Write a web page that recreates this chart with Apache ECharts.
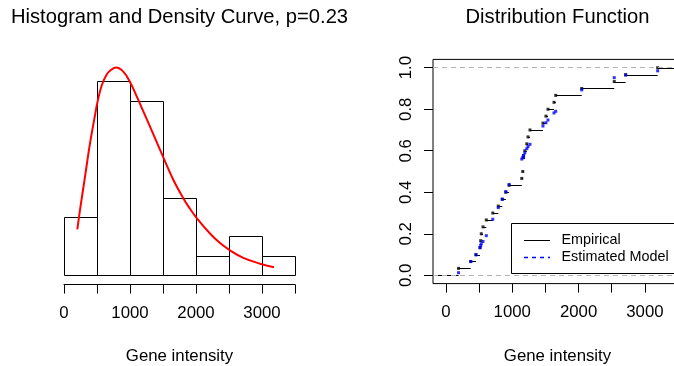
<!DOCTYPE html>
<html>
<head>
<meta charset="utf-8">
<script src="https://cdn.jsdelivr.net/npm/echarts@6/dist/echarts.min.js"></script>
<style>
html,body{margin:0;padding:0;background:#fff;}
#c{width:674px;height:366px;}
</style>
</head>
<body>
<div id="c"></div>
<script>
// ---- data ----
const breaks = [0, 500, 1000, 1500, 2000, 2500, 3000, 3500];
const binCounts = [3, 10, 9, 4, 1, 2, 1];
const densityX = [202, 242, 318, 394, 470, 505, 571, 647, 720, 788, 898, 1000, 1102, 1202, 1295, 1400, 1505, 1656, 1798, 1900, 2011, 2212, 2364, 2515, 2717, 2970, 3182];
const densityY = [1.57e-4, 2.23e-4, 3.38e-4, 4.53e-4, 5.50e-4, 5.93e-4, 6.52e-4, 6.90e-4, 7.07e-4, 7.14e-4, 7.00e-4, 6.64e-4, 6.15e-4, 5.63e-4, 5.15e-4, 4.60e-4, 4.05e-4, 3.28e-4, 2.68e-4, 2.31e-4, 1.96e-4, 1.43e-4, 1.10e-4, 8.5e-5, 5.9e-5, 3.9e-5, 2.7e-5];
const sortedData = [189, 373, 452, 513, 523, 532, 558, 608, 706, 789, 849, 902, 952, 1143, 1158, 1170, 1170, 1189, 1219, 1237, 1267, 1463, 1508, 1538, 1629, 1655, 2047, 2538, 2710, 3193];
const modelCdf = [0.0125, 0.066, 0.098, 0.133, 0.143, 0.152, 0.163, 0.191, 0.27, 0.326, 0.366, 0.403, 0.438, 0.56, 0.568, 0.577, 0.577, 0.59, 0.61, 0.62, 0.631, 0.719, 0.735, 0.748, 0.782, 0.79, 0.893, 0.952, 0.964, 0.985];
const xTicks = [0, 500, 1000, 1500, 2000, 2500, 3000, 3500];
const xLabels = [0, 1000, 2000, 3000];
const yTicks = [0, 0.2, 0.4, 0.6, 0.8, 1.0];
const titles = ['Histogram and Density Curve, p=0.23', 'Distribution Function'];
const xTitle = 'Gene intensity';
const legendNames = ['Empirical', 'Estimated Model'];

// ---- derived tables ----
const n = sortedData.length;
const histData = binCounts.map((c, i) => [breaks[i], breaks[i + 1], c / (n * (breaks[i + 1] - breaks[i]))]);
const densityData = densityX.map((x, i) => [x, densityY[i]]);
const RX_MIN = -196, RX_MAX = 3560;
const uniq = [], cum = [];
sortedData.forEach((v, i) => {
  if (uniq.length && uniq[uniq.length - 1] === v) cum[cum.length - 1] = i + 1;
  else { uniq.push(v); cum.push(i + 1); }
});
const stepSegs = [[RX_MIN, uniq[0], 0]];
uniq.forEach((u, j) => stepSegs.push([u, j + 1 < uniq.length ? uniq[j + 1] : RX_MAX, cum[j] / n]));
const stepPts = uniq.map((u, j) => [u, cum[j] / n]);
const modelPts = sortedData.map((x, i) => [x, modelCdf[i]]);

const FONT = '"Liberation Sans", Arial, Helvetica, sans-serif';
const chart = echarts.init(document.getElementById('c'), null, {renderer: 'canvas'});

function segItem(params, api) {
  const a = api.coord([api.value(0), api.value(2)]);
  const b = api.coord([api.value(1), api.value(2)]);
  const y = Math.round(a[1]) + 0.5;
  return {type: 'line', shape: {x1: a[0], y1: y, x2: b[0], y2: y}, style: {stroke: '#000', lineWidth: 1}};
}
function rectItem(params, api) {
  const p0 = api.coord([api.value(0), 0]);
  const p1 = api.coord([api.value(1), api.value(2)]);
  const x0 = Math.round(p0[0]) + 0.5, x1 = Math.round(p1[0]) + 0.5;
  const y0 = Math.round(p0[1]) + 0.5, y1 = Math.round(p1[1]) + 0.5;
  return {type: 'rect', shape: {x: x0, y: y1, width: x1 - x0, height: y0 - y1}, style: {fill: 'none', stroke: '#000', lineWidth: 1}};
}

const axisLabelStyle = {color: '#000', fontFamily: FONT, fontSize: 16.8};

const option = {
  backgroundColor: '#fff',
  animation: false,
  grid: [
    {left: 64, top: 59.4, width: 231, height: 224.2, outerBoundsMode: 'none', containLabel: false},
    {left: 433, top: 59.4, width: 249, height: 224.2, outerBoundsMode: 'none', containLabel: false,
     show: true, borderColor: '#000', borderWidth: 1, backgroundColor: 'transparent'}
  ],
  xAxis: [
    {gridIndex: 0, type: 'value', min: 0, max: 3500,
     axisLine: {show: true, onZero: false, lineStyle: {color: '#000', width: 1}},
     axisTick: {show: true, length: 9, inside: false, customValues: xTicks, lineStyle: {color: '#000'}},
     axisLabel: Object.assign({show: true, margin: 20, customValues: xLabels, formatter: v => String(v)}, axisLabelStyle),
     splitLine: {show: false}, offset: 1},
    {gridIndex: 1, type: 'value', min: RX_MIN, max: RX_MAX,
     axisLine: {show: false, onZero: false},
     axisTick: {show: true, length: 9, inside: false, customValues: xTicks, lineStyle: {color: '#000'}},
     axisLabel: Object.assign({show: true, margin: 20, customValues: xLabels, formatter: v => String(v)}, axisLabelStyle),
     splitLine: {show: false}}
  ],
  yAxis: [
    {gridIndex: 0, type: 'value', min: -2.955e-5, max: 7.42e-4, show: false, splitLine: {show: false}},
    {gridIndex: 1, type: 'value', min: -0.04, max: 1.04,
     axisLine: {show: false, onZero: false},
     axisTick: {show: true, length: 9, inside: false, customValues: yTicks, lineStyle: {color: '#000'}},
     axisLabel: Object.assign({show: true, margin: 18, rotate: 90, customValues: yTicks,
       formatter: v => Number(v).toFixed(1)}, axisLabelStyle),
     splitLine: {show: false}}
  ],
  series: [
    {type: 'custom', xAxisIndex: 0, yAxisIndex: 0, data: histData, renderItem: rectItem, z: 2, silent: true},
    {type: 'line', xAxisIndex: 0, yAxisIndex: 0, data: densityData, smooth: 0.4, showSymbol: false,
     lineStyle: {color: '#ff0000', width: 2}, z: 3, silent: true},
    {type: 'line', xAxisIndex: 1, yAxisIndex: 1, data: [], showSymbol: false, z: 1, silent: true,
     markLine: {silent: true, symbol: ['none', 'none'], label: {show: false},
       lineStyle: {color: '#b3b3b3', type: [5, 4], width: 1},
       data: [{yAxis: 0}, {yAxis: 1}]}},
    {type: 'custom', xAxisIndex: 1, yAxisIndex: 1, data: stepSegs, renderItem: segItem, z: 3, silent: true, clip: true},
    {type: 'scatter', xAxisIndex: 1, yAxisIndex: 1, data: stepPts, symbol: 'rect', symbolSize: 3,
     itemStyle: {color: '#000'}, z: 4, silent: true},
    {type: 'scatter', xAxisIndex: 1, yAxisIndex: 1, data: modelPts, symbol: 'rect', symbolSize: 3,
     itemStyle: {color: '#0000ff'}, z: 5, silent: true}
  ],
  graphic: [
    {type: 'text', z: 10, style: {text: titles[0], x: 179.5, y: 17, align: 'center', verticalAlign: 'middle', fontFamily: FONT, fontSize: 20.2, fill: '#000'}},
    {type: 'text', z: 10, style: {text: titles[1], x: 557.5, y: 17, align: 'center', verticalAlign: 'middle', fontFamily: FONT, fontSize: 20.2, fill: '#000'}},
    {type: 'text', z: 10, style: {text: xTitle, x: 179.5, y: 356, align: 'center', verticalAlign: 'middle', fontFamily: FONT, fontSize: 16.8, fill: '#000'}},
    {type: 'text', z: 10, style: {text: xTitle, x: 557.5, y: 356, align: 'center', verticalAlign: 'middle', fontFamily: FONT, fontSize: 16.8, fill: '#000'}},
    {type: 'rect', z: 20, shape: {x: 511.5, y: 223.5, width: 200, height: 50}, style: {fill: '#fff', stroke: '#000', lineWidth: 1}},
    {type: 'line', z: 21, shape: {x1: 524, y1: 240.5, x2: 550, y2: 240.5}, style: {stroke: '#000', lineWidth: 1}},
    {type: 'line', z: 21, shape: {x1: 524, y1: 257.5, x2: 550, y2: 257.5}, style: {stroke: '#0000ff', lineWidth: 1.3, lineDash: [4, 4]}},
    {type: 'text', z: 21, style: {text: legendNames[0], x: 561.5, y: 240.5, align: 'left', verticalAlign: 'middle', fontFamily: FONT, fontSize: 14.4, fill: '#000'}},
    {type: 'text', z: 21, style: {text: legendNames[1], x: 561.5, y: 257.5, align: 'left', verticalAlign: 'middle', fontFamily: FONT, fontSize: 14.4, fill: '#000'}}
  ]
};
chart.setOption(option);
</script>
</body>
</html>
